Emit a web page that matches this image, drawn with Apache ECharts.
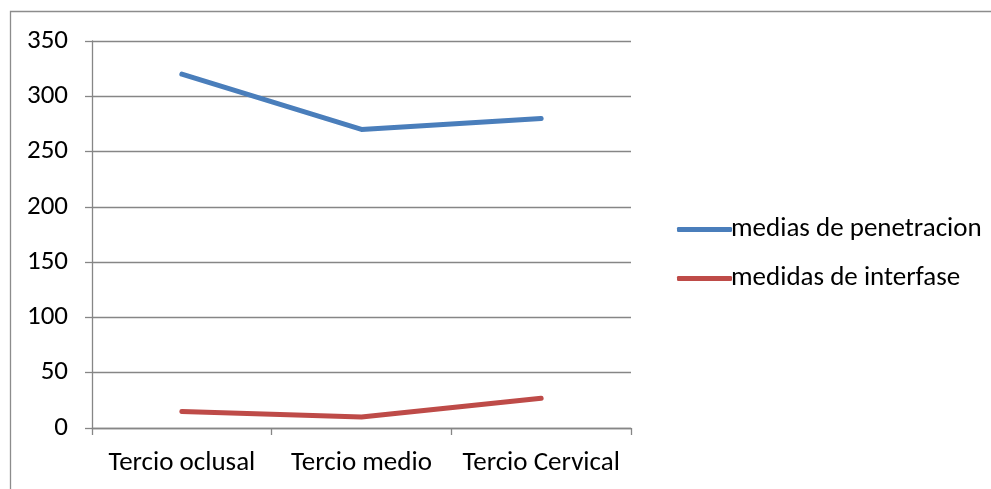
<!DOCTYPE html>
<html>
<head>
<meta charset="utf-8">
<script src="https://cdn.jsdelivr.net/npm/echarts@6/dist/echarts.min.js"></script>
<style>
  html, body { margin: 0; padding: 0; background: #fff; }
  #chart { width: 991px; height: 489px; }
</style>
</head>
<body>
<div id="chart"></div>
<script>
// Category labels along the x axis
const categories = ['Tercio oclusal', 'Tercio medio', 'Tercio Cervical'];
// Series values
const penetracion = [320, 270, 280];
const interfase = [15, 10, 27];
const seriesNames = ['medias de penetracion', 'medidas de interfase'];
const seriesColors = ['#4a7ebb', '#be4b48'];

const font = 'Carlito, "Open Sans", "Liberation Sans", sans-serif';
const fontSize = 27;
const chart = echarts.init(document.getElementById('chart'), null, { renderer: 'canvas' });

chart.setOption({
  animation: false,
  backgroundColor: '#ffffff',
  graphic: [{
    type: 'polyline',
    shape: { points: [[10.5, 489], [10.5, 11.5], [991, 11.5]] },
    style: { stroke: '#8c8c8c', lineWidth: 1.3, fill: null },
    silent: true
  }],
  grid: { left: 92, right: 360, top: 41, bottom: 61, containLabel: false },
  legend: {
    orient: 'vertical',
    left: 672,
    top: 211,
    itemWidth: 55,
    itemHeight: 5,
    itemGap: 22,
    icon: 'roundRect',
    textStyle: { fontFamily: font, fontSize: fontSize, color: '#000', padding: [0, 0, 0, -6] },
    data: seriesNames
  },
  xAxis: {
    type: 'category',
    data: categories,
    boundaryGap: true,
    axisLine: { lineStyle: { color: '#868686', width: 1.3 } },
    axisTick: { show: true, alignWithLabel: false, length: 7, lineStyle: { color: '#868686', width: 1.3 } },
    axisLabel: { fontFamily: font, fontSize: fontSize, color: '#000', margin: 22, interval: 0, hideOverlap: false },
    splitLine: { show: false }
  },
  yAxis: {
    type: 'value',
    min: 0,
    max: 350,
    interval: 50,
    axisLine: { show: true, lineStyle: { color: '#868686', width: 1.3 } },
    axisTick: { show: true, length: 7, lineStyle: { color: '#868686', width: 1.3 } },
    axisLabel: { fontFamily: font, fontSize: fontSize, color: '#000', margin: 24 },
    splitLine: { show: true, lineStyle: { color: '#868686', width: 1.3 } }
  },
  series: [
    {
      name: seriesNames[0],
      type: 'line',
      data: penetracion,
      symbol: 'none',
      color: seriesColors[0],
      lineStyle: { width: 5, color: seriesColors[0], cap: 'round', join: 'round' }
    },
    {
      name: seriesNames[1],
      type: 'line',
      data: interfase,
      symbol: 'none',
      color: seriesColors[1],
      lineStyle: { width: 5, color: seriesColors[1], cap: 'round', join: 'round' }
    }
  ]
});
</script>
</body>
</html>
